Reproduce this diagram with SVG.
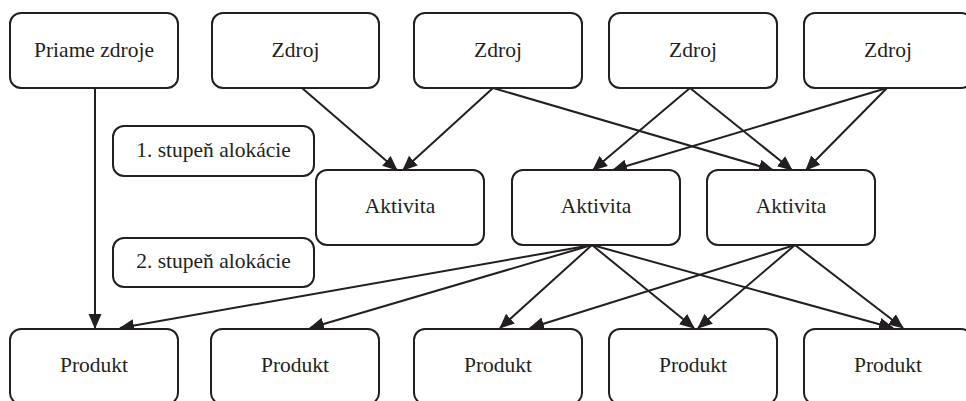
<svg xmlns="http://www.w3.org/2000/svg" width="966" height="401" viewBox="0 0 966 401">
<style>
.box{fill:#fff;stroke:#231f20;stroke-width:2}
.t{font-family:"Liberation Serif","Times New Roman",serif;font-size:21.5px;fill:#231f20;text-anchor:middle}
.c{stroke:#231f20;stroke-width:2;fill:none;marker-end:url(#ah)}
</style>
<defs>
<marker id="ah" markerUnits="userSpaceOnUse" markerWidth="16" markerHeight="14" refX="14" refY="6.5" orient="auto">
<path d="M0,0 L15,6.5 L0,13 Z" fill="#231f20"/>
</marker>
</defs>
<rect width="966" height="401" fill="#fff"/>
<g id="connectors">
<line class="c" x1="95" y1="88" x2="95" y2="328"/>
<line class="c" x1="302" y1="88" x2="397" y2="170"/>
<line class="c" x1="493" y1="88" x2="403" y2="170"/>
<line class="c" x1="493" y1="88" x2="773" y2="170"/>
<line class="c" x1="690" y1="88" x2="593" y2="170"/>
<line class="c" x1="690" y1="88" x2="792" y2="170"/>
<line class="c" x1="887" y1="88" x2="613" y2="170"/>
<line class="c" x1="887" y1="88" x2="806" y2="170"/>
<line class="c" x1="592" y1="245" x2="120" y2="328"/>
<line class="c" x1="592" y1="245" x2="310" y2="328"/>
<line class="c" x1="592" y1="245" x2="500" y2="328"/>
<line class="c" x1="592" y1="245" x2="694" y2="328"/>
<line class="c" x1="592" y1="245" x2="893" y2="328"/>
<line class="c" x1="795" y1="245" x2="530" y2="328"/>
<line class="c" x1="795" y1="245" x2="698" y2="328"/>
<line class="c" x1="795" y1="245" x2="903" y2="328"/>
</g>
<g id="priame"><rect class="box" x="10" y="13" width="168" height="75" rx="11"/><text class="t" x="94" y="57">Priame zdroje</text></g>
<g id="zdroj1"><rect class="box" x="212" y="13" width="167" height="75" rx="11"/><text class="t" x="295.5" y="57">Zdroj</text></g>
<g id="zdroj2"><rect class="box" x="414" y="13" width="168" height="75" rx="11"/><text class="t" x="498" y="57">Zdroj</text></g>
<g id="zdroj3"><rect class="box" x="609" y="13" width="168" height="75" rx="11"/><text class="t" x="693" y="57">Zdroj</text></g>
<g id="zdroj4"><rect class="box" x="804" y="13" width="168" height="75" rx="11"/><text class="t" x="888" y="57">Zdroj</text></g>
<g id="stupen1"><rect class="box" x="113" y="126" width="201" height="50" rx="11"/><text class="t" x="213.5" y="157">1. stupeň alokácie</text></g>
<g id="stupen2"><rect class="box" x="113" y="238" width="201" height="49" rx="11"/><text class="t" x="213.5" y="268">2. stupeň alokácie</text></g>
<g id="aktivita1"><rect class="box" x="316" y="170" width="168" height="75" rx="11"/><text class="t" x="400" y="213">Aktivita</text></g>
<g id="aktivita2"><rect class="box" x="512" y="170" width="168" height="75" rx="11"/><text class="t" x="596" y="213">Aktivita</text></g>
<g id="aktivita3"><rect class="box" x="707" y="170" width="168" height="75" rx="11"/><text class="t" x="791" y="213">Aktivita</text></g>
<g id="produkt1"><rect class="box" x="10" y="329" width="168" height="75" rx="11"/><text class="t" x="94" y="372">Produkt</text></g>
<g id="produkt2"><rect class="box" x="211" y="329" width="168" height="75" rx="11"/><text class="t" x="295" y="372">Produkt</text></g>
<g id="produkt3"><rect class="box" x="414" y="329" width="168" height="75" rx="11"/><text class="t" x="498" y="372">Produkt</text></g>
<g id="produkt4"><rect class="box" x="609" y="329" width="168" height="75" rx="11"/><text class="t" x="693" y="372">Produkt</text></g>
<g id="produkt5"><rect class="box" x="804" y="329" width="168" height="75" rx="11"/><text class="t" x="888" y="372">Produkt</text></g>
</svg>
